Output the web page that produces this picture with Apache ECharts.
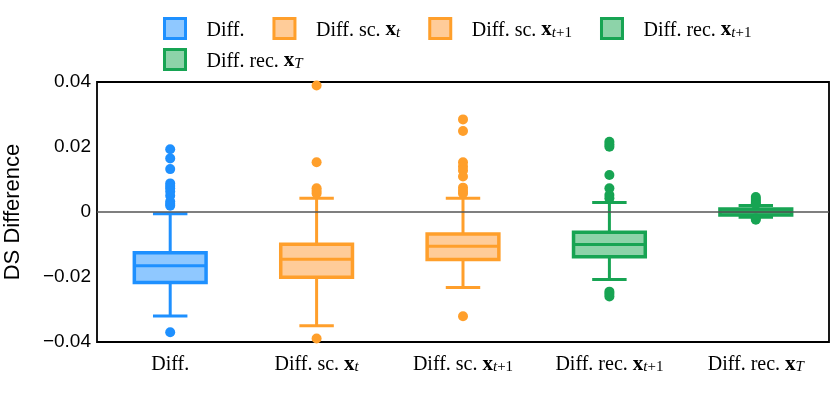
<!DOCTYPE html>
<html>
<head>
<meta charset="utf-8">
<script src="https://cdn.jsdelivr.net/npm/echarts@6/dist/echarts.min.js"></script>
<style>
  html, body { margin: 0; padding: 0; background: #fff; }
  #chart { width: 831px; height: 416px; }
</style>
</head>
<body>
<div id="chart"></div>
<script>
// categories (plain names) and how they are typeset: [text, bold x, italic sub, upright sub]
const categories = ['Diff.', 'Diff. sc. xt', 'Diff. sc. xt+1', 'Diff. rec. xt+1', 'Diff. rec. xT'];
const labelParts = [
  ['Diff.', '', '', ''],
  ['Diff. sc. ', 'x', 't', ''],
  ['Diff. sc. ', 'x', 't', '+1'],
  ['Diff. rec. ', 'x', 't', '+1'],
  ['Diff. rec. ', 'x', 'T', '']
];

// box stats: [min whisker, Q1, median, Q3, max whisker]
const boxDiff     = [-0.0320, -0.0217, -0.0165, -0.0125, -0.0005];
const boxScT      = [-0.0350, -0.0201, -0.0145, -0.0099,  0.0042];
const boxScT1     = [-0.0232, -0.0146, -0.0105, -0.0068,  0.0042];
const boxRecT1    = [-0.0208, -0.0138, -0.0100, -0.0062,  0.0029];
const boxRecT     = [-0.0016, -0.0009,  0.0001,  0.0009,  0.0020];

// outliers
const outDiff  = [0.0193, 0.0165, 0.0132, 0.0088, 0.0080, 0.0073, 0.0063, 0.0050, 0.0032, 0.0025, 0.0019, -0.0370];
const outScT   = [0.0389, 0.0153, 0.0073, 0.0065, 0.0057, -0.0389];
const outScT1  = [0.0285, 0.0249, 0.0153, 0.0140, 0.0128, 0.0109, 0.0075, 0.0065, 0.0057, -0.0321];
const outRecT1 = [0.0216, 0.0208, 0.0201, 0.0114, 0.0073, 0.0052, 0.0042, -0.0245, -0.0252, -0.0260];
const outRecT  = [0.0046, 0.0040, 0.0034, 0.0028, 0.0024, -0.0020, -0.0024];

const yTicks = [-0.04, -0.02, 0, 0.02, 0.04];

const boxes = [boxDiff, boxScT, boxScT1, boxRecT1, boxRecT];
const outliers = [outDiff, outScT, outScT1, outRecT1, outRecT];
const strokes = ['#1E90FF', '#FF9F2B', '#FF9F2B', '#17A453', '#17A453'];
const fills   = ['#8FC8FF', '#FFCC99', '#FFCC99', '#8DD3A9', '#8DD3A9'];

const SERIF = 'Liberation Serif';
const SANS = 'Liberation Sans';

const rich = {
  r: { fontFamily: SERIF, fontSize: 20, lineHeight: 24, verticalAlign: 'bottom', color: '#000' },
  b: { fontFamily: SERIF, fontSize: 21, fontWeight: 'bold', lineHeight: 24, verticalAlign: 'bottom', color: '#000' },
  i: { fontFamily: SERIF, fontSize: 15, fontStyle: 'italic', lineHeight: 11, verticalAlign: 'bottom', color: '#000' },
  u: { fontFamily: SERIF, fontSize: 15, lineHeight: 11, verticalAlign: 'bottom', color: '#000' }
};

function richLabel(idx) {
  const p = labelParts[idx];
  let s = '{r|' + p[0] + '}';
  if (p[1]) s += '{b|' + p[1] + '}';
  if (p[2]) s += '{i|' + p[2] + '}';
  if (p[3]) s += '{u|' + p[3] + '}';
  return s;
}

function renderBox(params, api) {
  const x = api.value(0);
  const cx = api.coord([x, 0])[0];
  const yMin = api.coord([x, api.value(1)])[1];
  const yQ1 = api.coord([x, api.value(2)])[1];
  const yMed = api.coord([x, api.value(3)])[1];
  const yQ3 = api.coord([x, api.value(4)])[1];
  const yMax = api.coord([x, api.value(5)])[1];
  const bw = api.size([1, 0])[0] * 0.49;
  const cap = bw * 0.48;
  const stroke = strokes[x];
  const fill = fills[x];
  const ls = { stroke: stroke, lineWidth: 3 };
  return {
    type: 'group',
    children: [
      { type: 'line', shape: { x1: cx, y1: yQ3, x2: cx, y2: yMax }, style: ls },
      { type: 'line', shape: { x1: cx, y1: yQ1, x2: cx, y2: yMin }, style: ls },
      { type: 'line', shape: { x1: cx - cap / 2, y1: yMax, x2: cx + cap / 2, y2: yMax }, style: ls },
      { type: 'line', shape: { x1: cx - cap / 2, y1: yMin, x2: cx + cap / 2, y2: yMin }, style: ls },
      { type: 'rect', shape: { x: cx - bw / 2, y: yQ3, width: bw, height: yQ1 - yQ3 },
        style: { fill: fill, stroke: stroke, lineWidth: 3.5 } },
      { type: 'line', shape: { x1: cx - bw / 2, y1: yMed, x2: cx + bw / 2, y2: yMed }, style: ls }
    ]
  };
}

const series = [];
// zero reference line
series.push({
  type: 'scatter', data: [], silent: true, z: 1,
  markLine: {
    silent: true, symbol: 'none', label: { show: false },
    lineStyle: { color: '#555', width: 1.5, type: 'solid' },
    data: [{ yAxis: 0 }]
  }
});
categories.forEach(function (name, i) {
  series.push({
    name: name, type: 'custom', z: 3,
    renderItem: renderBox,
    encode: { x: 0, y: [1, 2, 3, 4, 5] },
    itemStyle: { color: fills[i], borderColor: strokes[i] },
    data: [[i].concat(boxes[i])]
  });
});
categories.forEach(function (name, i) {
  series.push({
    name: name, type: 'scatter', z: 4,
    symbolSize: 10,
    itemStyle: { color: strokes[i], opacity: 1 },
    data: outliers[i].map(function (v) { return [i, v]; })
  });
});

function legendItem(i) {
  return {
    name: categories[i],
    icon: 'rect',
    itemStyle: { color: fills[i], borderColor: strokes[i], borderWidth: 3 }
  };
}
const legendCommon = {
  orient: 'horizontal',
  itemWidth: 21, itemHeight: 20, itemGap: 28,
  selectedMode: false,
  formatter: function (name) { return richLabel(categories.indexOf(name)); },
  textStyle: { rich: rich, padding: [0, 0, 0, 16] }
};

const chart = echarts.init(document.getElementById('chart'), null, { renderer: 'canvas' });
chart.setOption({
  animation: false,
  backgroundColor: '#fff',
  legend: [
    Object.assign({ left: 158, top: 12, data: [0, 1, 2, 3].map(legendItem) }, legendCommon),
    Object.assign({ left: 158, top: 43, data: [4].map(legendItem) }, legendCommon)
  ],
  grid: {
    left: 97, right: 2, top: 82, bottom: 74,
    outerBoundsMode: 'none', containLabel: false,
    show: true, borderColor: '#000', borderWidth: 1.8, backgroundColor: 'transparent'
  },
  xAxis: {
    type: 'category',
    data: categories,
    boundaryGap: true,
    axisLine: { show: false },
    axisTick: { show: false },
    splitLine: { show: false },
    axisLabel: {
      interval: 0, margin: 9,
      formatter: function (v, idx) { return richLabel(idx); },
      rich: rich
    }
  },
  yAxis: {
    type: 'value',
    min: yTicks[0], max: yTicks[yTicks.length - 1], interval: 0.02,
    name: 'DS Difference',
    nameLocation: 'middle', nameGap: 73,
    nameTextStyle: { fontFamily: SANS, fontSize: 22, color: '#000' },
    axisLine: { show: false },
    axisTick: { show: false },
    splitLine: { show: false },
    axisLabel: {
      margin: 6, fontFamily: SANS, fontSize: 19, color: '#000',
      formatter: function (v) {
        if (Math.abs(v) < 1e-9) return '0';
        return (v < 0 ? '\u2212' : '') + Math.abs(v).toFixed(2);
      }
    }
  },
  series: series
});
</script>
</body>
</html>
